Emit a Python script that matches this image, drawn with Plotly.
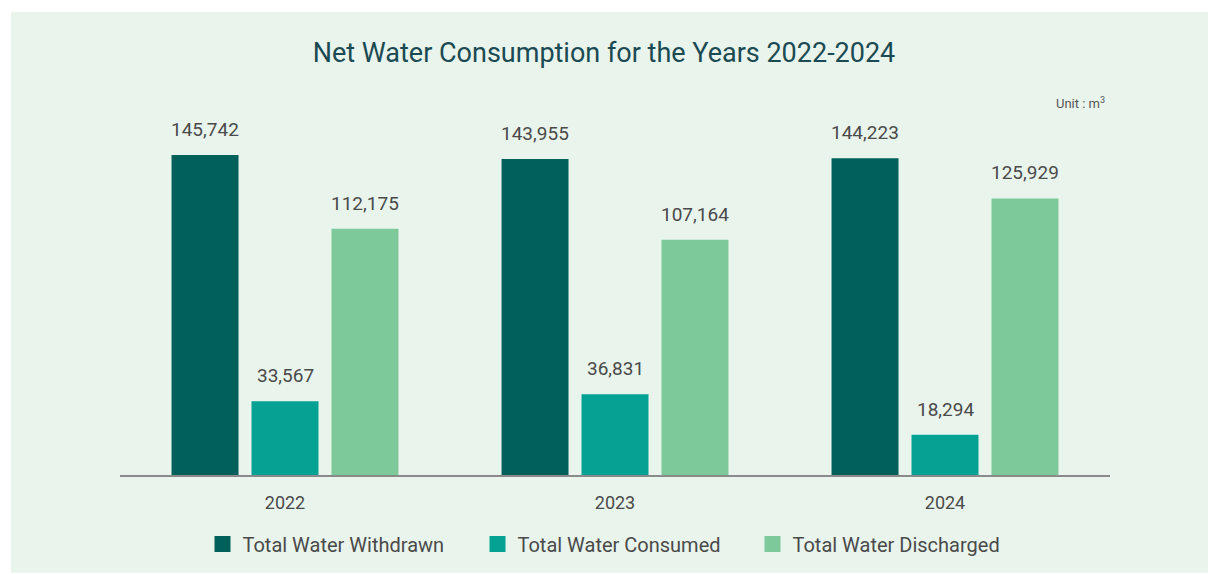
import plotly.graph_objects as go

years = ["2022", "2023", "2024"]
series_names = ["Total Water Withdrawn", "Total Water Consumed", "Total Water Discharged"]
withdrawn = [145742, 143955, 144223]
consumed = [33567, 36831, 18294]
discharged = [112175, 107164, 125929]
series_values = [withdrawn, consumed, discharged]
colors = ["#01605A", "#05A192", "#7DC99A"]

W, H = 1208, 574
ML, MR, MT, MB = 120, 98, 60, 98
BARGAP, BARGROUPGAP = 0.273, 0.1625
YMAX = 189000

plot_w = W - ML - MR
plot_h = H - MT - MB
cat_w = plot_w / len(years)
slot_w = cat_w * (1 - BARGAP) / len(series_names)

fig = go.Figure()
for name, vals, col in zip(series_names, series_values, colors):
    fig.add_trace(go.Bar(x=years, y=vals, name=name, marker_color=col,
                         marker_line_width=0, showlegend=False))
    fig.add_trace(go.Scatter(x=[years[0]], y=[None], mode="markers", name=name,
                             marker=dict(symbol="square", size=22, color=col)))

annotations = []
for si, vals in enumerate(series_values):
    for ci, v in enumerate(vals):
        annotations.append(dict(x=ci, y=v, xref="x", yref="y", text=f"{v:,}",
                                showarrow=False, yanchor="bottom", yshift=12,
                                xshift=(si - 1) * slot_w,
                                font=dict(family="Roboto", size=19, color="#4a4a4a")))
annotations.append(dict(x=(1107 - ML) / plot_w, y=(H - MB - 103) / plot_h, xref="paper", yref="paper",
                        text="Unit : m<sup>3</sup>", showarrow=False, xanchor="right",
                        yanchor="middle", font=dict(family="Roboto", size=13, color="#555555")))

shapes = [dict(type="rect", xref="paper", yref="paper", layer="below",
               x0=(11 - ML) / plot_w, x1=(W - ML) / plot_w,
               y0=-(MB) / plot_h, y1=(H - MB - 12) / plot_h,
               fillcolor="#E9F4EC", line_width=0)]

fig.update_layout(
    width=W, height=H,
    margin=dict(l=ML, r=MR, t=MT, b=MB),
    paper_bgcolor="white", plot_bgcolor="rgba(0,0,0,0)",
    barmode="group", bargap=BARGAP, bargroupgap=BARGROUPGAP,
    title=dict(text="Net Water Consumption for the Years 2022-2024", x=0.5, xanchor="center",
               y=1 - 53 / H, yanchor="middle",
               font=dict(family="Roboto", size=27, color="#1B4A53")),
    xaxis=dict(type="category", categoryorder="array", categoryarray=years,
               range=[-0.5, len(years) - 0.5],
               showline=True, linecolor="#8a8a8a", linewidth=1.5, showgrid=False,
               ticks="outside", ticklen=11, tickcolor="rgba(0,0,0,0)",
               tickfont=dict(family="Roboto", size=18, color="#4a4a4a")),
    yaxis=dict(range=[0, YMAX], visible=False, showgrid=False),
    legend=dict(orientation="h", x=0.5, xanchor="center", y=-(544 - (H - MB)) / plot_h,
                yanchor="middle", font=dict(family="Roboto", size=20, color="#4a4a4a"),
                bgcolor="rgba(0,0,0,0)", itemsizing="trace", entrywidth=230),
    annotations=annotations, shapes=shapes,
)

fig.write_html("out.html", config={"displayModeBar": False},
               post_script="document.body.style.margin='0';")
